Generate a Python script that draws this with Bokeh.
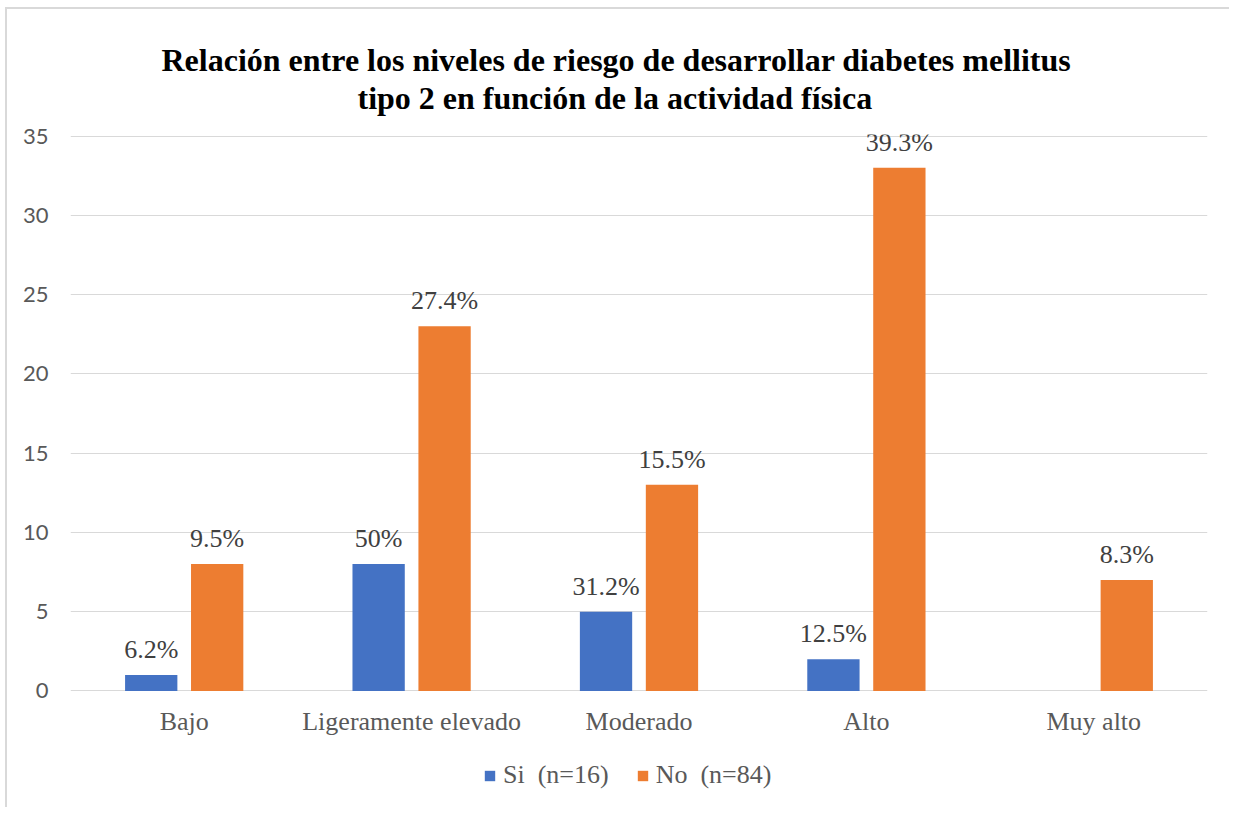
from bokeh.plotting import figure
from bokeh.models import (FactorRange, Range1d, ColumnDataSource, LabelSet, Title,
                          Legend, LegendItem, FixedTicker)
from bokeh.transform import dodge
from bokeh.embed import file_html
from bokeh.resources import INLINE

categories = ["Bajo", "Ligeramente elevado", "Moderado", "Alto", "Muy alto"]
si_values = [1, 8, 5, 2, 0]
no_values = [8, 23, 13, 33, 7]
si_labels = ["6.2%", "50%", "31.2%", "12.5%", ""]
no_labels = ["9.5%", "27.4%", "15.5%", "39.3%", "8.3%"]
y_ticks = [0, 5, 10, 15, 20, 25, 30, 35]
title_lines = ["Relación entre los niveles de riesgo de desarrollar diabetes mellitus",
               "tipo 2 en función de la actividad física"]
legend_labels = ["Si  (n=16)", "No  (n=84)"]

BLUE = "#4472C4"
ORANGE = "#ED7D31"
SERIF = "Liberation Serif"
GRAY = "#595959"

# the canvas is offset by a thin light-gray chart border (css)
OX, OY = 7, 9
W, H = 1224, 800
FL, FR, FT, FB = 70 - OX, 1207 - OX, 134 - OY, H
Y_TOP = 35.1
PPU = 558 / 35.2                      # pixels per unit of the value axis
Y_BOTTOM = Y_TOP - (FB - FT) / PPU    # frame extends below 0 to hold the legend

src = ColumnDataSource(dict(cat=categories, si=si_values, no=no_values,
                            si_lab=si_labels, no_lab=no_labels))

p = figure(width=W, height=H, x_range=FactorRange(*categories, range_padding=0),
           y_range=Range1d(Y_BOTTOM, Y_TOP), output_backend="svg", toolbar_location=None,
           min_border_left=FL, min_border_right=W - FR, min_border_top=FT,
           min_border_bottom=0)
p.styles = {"margin-left": "5px", "margin-top": "7px",
            "border-left": "2px solid #d9d9d9", "border-top": "2px solid #d9d9d9"}
p.outline_line_color = None
p.background_fill_color = "white"
p.border_fill_color = "white"

r_si = p.vbar(x=dodge("cat", -0.145, range=p.x_range), top="si", width=0.23,
              source=src, fill_color=BLUE, line_color=None)
r_no = p.vbar(x=dodge("cat", 0.145, range=p.x_range), top="no", width=0.23,
              source=src, fill_color=ORANGE, line_color=None)

for col, off in (("si_lab", -0.145), ("no_lab", 0.145)):
    ycol = "si" if col == "si_lab" else "no"
    p.add_layout(LabelSet(x=dodge("cat", off, range=p.x_range), y=ycol, text=col,
                          source=src, text_align="center", text_baseline="alphabetic",
                          y_offset=17, text_font=SERIF, text_font_size="26px",
                          text_color="#404040"))

# axes
p.yaxis.ticker = FixedTicker(ticks=y_ticks)
p.yaxis.axis_line_color = None
p.yaxis.major_tick_line_color = None
p.yaxis.minor_tick_line_color = None
p.yaxis.major_tick_out = 0
p.yaxis.major_label_standoff = 22
p.yaxis.major_label_text_font = "Lato"
p.yaxis.major_label_text_font_size = "22px"
p.yaxis.major_label_text_color = GRAY

p.xaxis.fixed_location = 0
p.xaxis.axis_line_color = None
p.xaxis.major_tick_line_color = None
p.xaxis.major_tick_out = 0
p.xaxis.major_tick_in = 0
p.xaxis.major_label_standoff = 16
p.xaxis.major_label_text_font = SERIF
p.xaxis.major_label_text_font_size = "26px"
p.xaxis.major_label_text_color = GRAY

p.xgrid.grid_line_color = None
p.ygrid.grid_line_color = "#d9d9d9"
p.ygrid.grid_line_width = 1

# title (first added is closest to the frame); offsets from the frame's left edge
p.add_layout(Title(text=title_lines[1], align="left", offset=357 - 70, standoff=38,
                   text_font=SERIF, text_font_size="32px", text_font_style="bold",
                   text_color="black"), "above")
p.add_layout(Title(text=title_lines[0], align="left", offset=161 - 70, standoff=-38,
                   text_font=SERIF, text_font_size="32px", text_font_style="bold",
                   text_color="black"), "above")

legend = Legend(items=[LegendItem(label=legend_labels[0], renderers=[r_si]),
                       LegendItem(label=legend_labels[1], renderers=[r_no])],
                orientation="horizontal", location=(483 - 70, FB - (790 - OY)),
                label_text_font=SERIF, label_text_font_size="26px",
                label_text_color=GRAY, glyph_width=13, glyph_height=13,
                label_standoff=7, spacing=27, padding=0, margin=0,
                border_line_color=None, background_fill_alpha=0)
p.add_layout(legend, "center")

open("out.html", "w").write(file_html(p, INLINE))
